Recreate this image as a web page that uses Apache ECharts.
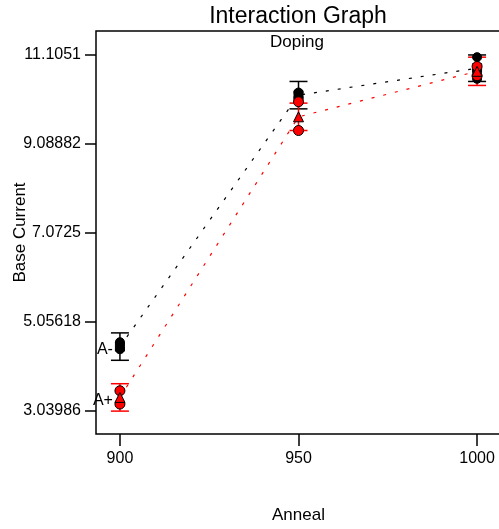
<!DOCTYPE html>
<html>
<head>
<meta charset="utf-8">
<script src="https://cdn.jsdelivr.net/npm/echarts@6/dist/echarts.min.js"></script>
<style>
html,body{margin:0;padding:0;background:#fff;}
#chart{width:499px;height:529px;}
</style>
</head>
<body>
<div id="chart"></div>
<script>
// ---- data ----
const anneal = [900, 950, 1000];
const yTicks = [3.03986, 5.05618, 7.0725, 9.08882, 11.1051];
const yTickLabels = ['3.03986', '5.05618', '7.0725', '9.08882', '11.1051'];
const xTicks = [900, 950, 1000];
const xTickLabels = ['900', '950', '1000'];

// A- (black)
const aMinusMeans = [4.49, 10.18, 10.79];
const aMinusHalfLSD = [0.31, 0.31, 0.30];
const aMinusPointsLow = [4.43, 10.12, 10.55];
const aMinusPointsHigh = [4.59, 10.24, 11.04];

// A+ (red)
const aPlusMeans = [3.34, 9.69, 10.72];
const aPlusHalfLSD = [0.31, 0.31, 0.32];
const aPlusPointsLow = [3.19, 9.38, 10.62];
const aPlusPointsHigh = [3.49, 10.03, 10.83];

const groupLabels = ['A-', 'A+'];

// ---- build ----
const FONT = 'Liberation Sans, Arial, sans-serif';

function pairs(xs, ys) { return xs.map((x, i) => [x, ys[i]]); }

function errorSeries(means, half, color) {
  return {
    type: 'custom',
    data: anneal.map((x, i) => [x, means[i] - half[i], means[i] + half[i]]),
    z: 3,
    renderItem: function (params, api) {
      const x = api.value(0);
      const lo = api.coord([x, api.value(1)]);
      const hi = api.coord([x, api.value(2)]);
      const w = 9;
      const style = { stroke: color, lineWidth: 1.5 };
      return {
        type: 'group',
        children: [
          { type: 'line', shape: { x1: lo[0], y1: lo[1], x2: hi[0], y2: hi[1] }, style: style },
          { type: 'line', shape: { x1: lo[0] - w, y1: lo[1], x2: lo[0] + w, y2: lo[1] }, style: style },
          { type: 'line', shape: { x1: hi[0] - w, y1: hi[1], x2: hi[0] + w, y2: hi[1] }, style: style }
        ]
      };
    }
  };
}

function lineSeries(means, color) {
  return {
    type: 'line',
    data: pairs(anneal, means),
    symbol: 'none',
    z: 2,
    lineStyle: { color: color, width: 1.2, type: [3, 9] }
  };
}

function pointSeries(vals, color, symbol, size, border) {
  return {
    type: 'scatter',
    data: pairs(anneal, vals),
    symbol: symbol,
    symbolSize: size,
    z: 4,
    itemStyle: { color: color, borderColor: border, borderWidth: 1, opacity: 1 }
  };
}

function labelSeries(means, text) {
  return {
    type: 'scatter',
    data: [[anneal[0], means[0]]],
    symbolSize: 0,
    itemStyle: { color: '#000' },
    z: 5,
    label: {
      show: true, position: 'left', distance: 7, offset: [0, 3], formatter: text,
      color: '#000', fontSize: 16, fontFamily: FONT, textBorderWidth: 0, opacity: 1
    }
  };
}

const chart = echarts.init(document.getElementById('chart'), null, { renderer: 'canvas' });
chart.setOption({
  animation: false,
  backgroundColor: '#fff',
  grid: {
    left: 96, top: 31, right: -2, bottom: 95,
    containLabel: false, outerBoundsMode: 'none',
    show: true, borderColor: '#000', borderWidth: 1.5, backgroundColor: 'transparent'
  },
  graphic: [
    { type: 'text', x: 298, y: 17, style: { text: 'Interaction Graph', fontSize: 23, fontFamily: FONT, fill: '#000', textAlign: 'center', textVerticalAlign: 'middle' } },
    { type: 'text', x: 297, y: 42, style: { text: 'Doping', fontSize: 17, fontFamily: FONT, fill: '#000', textAlign: 'center', textVerticalAlign: 'middle' } }
  ],
  xAxis: {
    type: 'value', min: 893.3, max: 1006.7,
    name: 'Anneal', nameLocation: 'middle', nameGap: 73, nameMoveOverlap: false,
    nameTextStyle: { fontSize: 17, fontFamily: FONT, color: '#000' },
    axisLine: { show: false },
    axisTick: { show: true, length: 12, customValues: xTicks, lineStyle: { color: '#000', width: 1.5 } },
    axisLabel: {
      customValues: xTicks, margin: 17, fontSize: 16, fontFamily: FONT, color: '#000',
      formatter: function (v) {
        const i = xTicks.findIndex(t => Math.abs(t - v) < 1e-6);
        return i >= 0 ? xTickLabels[i] : '';
      }
    },
    splitLine: { show: false }
  },
  yAxis: {
    type: 'value', min: 2.512, max: 11.632,
    name: 'Base Current', nameLocation: 'middle', nameGap: 67, nameRotate: 90, nameMoveOverlap: false,
    nameTextStyle: { fontSize: 17, fontFamily: FONT, color: '#000' },
    axisLine: { show: false },
    axisTick: { show: true, length: 11, customValues: yTicks, lineStyle: { color: '#000', width: 1.5 } },
    axisLabel: {
      customValues: yTicks, margin: 15, fontSize: 16, fontFamily: FONT, color: '#000',
      formatter: function (v) {
        const i = yTicks.findIndex(t => Math.abs(t - v) < 1e-6);
        return i >= 0 ? yTickLabels[i] : '';
      }
    },
    splitLine: { show: false }
  },
  series: [
    lineSeries(aMinusMeans, '#000'),
    lineSeries(aPlusMeans, '#ff0000'),
    errorSeries(aMinusMeans, aMinusHalfLSD, '#000'),
    pointSeries(aMinusPointsHigh, '#000', 'circle', 9, '#000'),
    pointSeries(aMinusPointsLow, '#000', 'circle', 9, '#000'),
    pointSeries(aMinusMeans, '#000', 'rect', 9, '#000'),
    errorSeries(aPlusMeans, aPlusHalfLSD, '#ff0000'),
    pointSeries(aPlusPointsHigh, '#ff0000', 'circle', 10, '#000'),
    pointSeries(aPlusPointsLow, '#ff0000', 'circle', 10, '#000'),
    pointSeries(aPlusMeans, '#ff0000', 'triangle', 10, '#000'),
    labelSeries(aMinusMeans, groupLabels[0]),
    labelSeries(aPlusMeans, groupLabels[1])
  ]
});
</script>
</body>
</html>
